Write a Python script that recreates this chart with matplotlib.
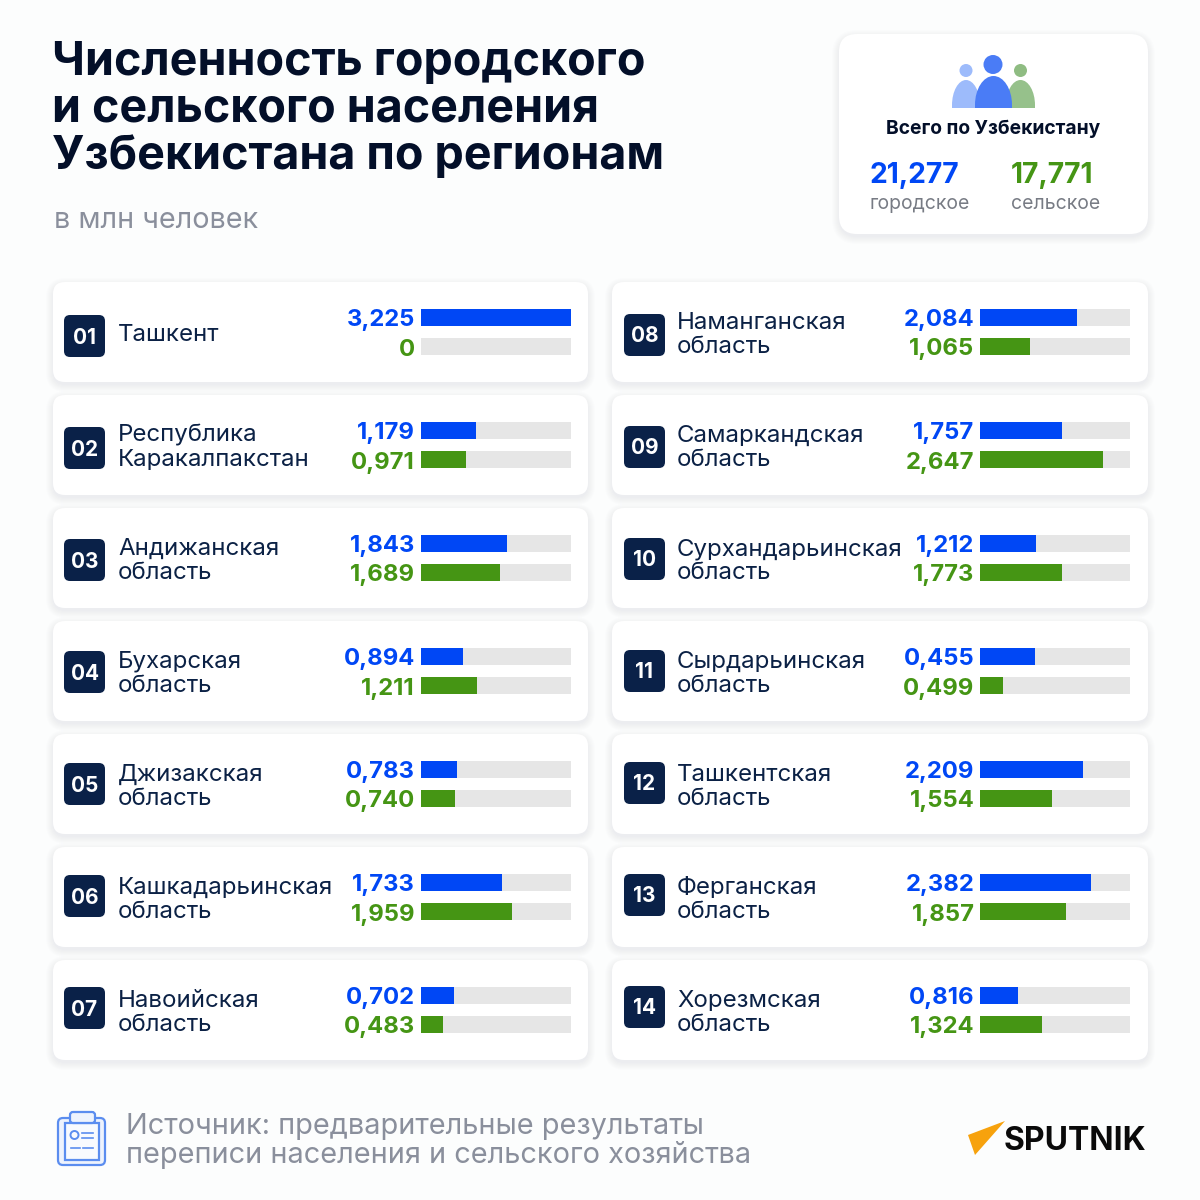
import matplotlib
matplotlib.use("Agg")
import matplotlib.pyplot as plt
from matplotlib.patches import FancyBboxPatch, Circle, Polygon, PathPatch, Rectangle
from matplotlib.path import Path

plt.rcParams['font.family'] = ['Inter', 'Roboto', 'DejaVu Sans']

# ---------- data ----------
left_names = [["Ташкент"], ["Республика", "Каракалпакстан"], ["Андижанская", "область"],
              ["Бухарская", "область"], ["Джизакская", "область"],
              ["Кашкадарьинская", "область"], ["Навоийская", "область"]]
right_names = [["Наманганская", "область"], ["Самаркандская", "область"], ["Сурхандарьинская", "область"],
               ["Сырдарьинская", "область"], ["Ташкентская", "область"],
               ["Ферганская", "область"], ["Хорезмская", "область"]]
left_urban = [3.225, 1.179, 1.843, 0.894, 0.783, 1.733, 0.702]
left_rural = [0, 0.971, 1.689, 1.211, 0.740, 1.959, 0.483]
right_urban = [2.084, 1.757, 1.212, 0.455, 2.209, 2.382, 0.816]
right_rural = [1.065, 2.647, 1.773, 0.499, 1.554, 1.857, 1.324]
# the drawn bar for Syrdarya's urban value is longer than its label says
right_urban_bar = [2.084, 1.757, 1.212, 1.18, 2.209, 2.382, 0.816]
scale_max = 3.225
total_urban = "21,277"
total_rural = "17,771"

title_lines = ["Численность городского", "и сельского населения", "Узбекистана по регионам"]
subtitle = "в млн человек"
source_lines = ["Источник: предварительные результаты", "переписи населения и сельского хозяйства"]

# ---------- style ----------
BG = "#FCFDFD"
BLUE = "#0047F5"
GREEN = "#459514"
TRACK = "#E6E6E6"
NAVY = "#0A2148"
INK = "#0B2145"
GRAY = "#8A8F9C"
PITCH = 113
TOP = 282

def fmt(v):
    return "0" if v == 0 else f"{v:.3f}".replace(".", ",")

fig = plt.figure(figsize=(12, 12), dpi=100, facecolor=BG)
bg = fig.add_axes([0, 0, 1, 1])
bg.set_xlim(0, 1200)
bg.set_ylim(1200, 0)
bg.axis("off")

def card(x0, y0, x1, y1, r):
    for i in range(8, 0, -1):
        bg.add_patch(FancyBboxPatch((x0 - i + 1, y0 - i + 4), x1 - x0 + 2 * i - 2, y1 - y0 + 2 * i - 2,
                                    boxstyle=f"round,pad=0,rounding_size={r + i}",
                                    fc="#5A6E9E", ec="none", alpha=0.010))
    bg.add_patch(FancyBboxPatch((x0, y0), x1 - x0, y1 - y0, boxstyle=f"round,pad=0,rounding_size={r}",
                                fc="white", ec="none"))

# ---------- header ----------
for i, line in enumerate(title_lines):
    bg.text(52.5, 75 + 47 * i, line, fontsize=33.55, fontweight="bold", color="#030F29", va="baseline")
bg.text(53.5, 228, subtitle, fontsize=20.7, color=GRAY, va="baseline")

card(839, 34, 1148, 234, 18)

def body(x0, x1, top, bottom, color, z):
    w = x1 - x0
    h = bottom - top
    k = 0.55
    verts = [(x0, bottom), (x0, top + h * 0.9), (x0, top + h * 0.9 - h * 0.9 * k), (x0 + w / 2 - w / 2 * k, top),
             (x0 + w / 2, top), (x0 + w / 2 + w / 2 * k, top), (x1, top + h * 0.9 - h * 0.9 * k),
             (x1, top + h * 0.9), (x1, bottom), (x0, bottom)]
    codes = [Path.MOVETO, Path.LINETO, Path.CURVE4, Path.CURVE4, Path.CURVE4, Path.CURVE4, Path.CURVE4,
             Path.CURVE4, Path.LINETO, Path.CLOSEPOLY]
    bg.add_patch(PathPatch(Path(verts, codes), fc=color, ec="none", zorder=z))

body(952, 980, 80, 108, "#9DBBFB", 3)
bg.add_patch(Circle((966, 70.5), 6.5, fc="#9DBBFB", ec="none", zorder=3))
body(1006, 1035, 80, 108, "#96C18B", 3)
bg.add_patch(Circle((1020.5, 70.5), 6.5, fc="#8FBC82", ec="none", zorder=3))
body(975, 1012, 76, 108, "#4A7CF6", 4)
bg.add_patch(Circle((993, 64.5), 9.5, fc="#4A7CF6", ec="none", zorder=4))

bg.text(993.5, 134, "Всего по Узбекистану", fontsize=13.85, fontweight="bold", color="#030F29",
        ha="center", va="baseline")
bg.text(869.5, 183, total_urban, fontsize=20.3, fontweight="bold", color=BLUE, va="baseline")
bg.text(1011, 183, total_rural, fontsize=20.3, fontweight="bold", color=GREEN, va="baseline")
bg.text(869.5, 209, "городское", fontsize=13.95, color="#777B84", va="baseline")
bg.text(1011, 209, "сельское", fontsize=13.95, color="#777B84", va="baseline")

# ---------- rows ----------
def column(names, urban, rural, urban_bar, card_x0, card_x1, offset):
    track_x0 = 421 if not offset else 980
    ax = fig.add_axes([track_x0 / 1200, 1 - (TOP + 7 * PITCH) / 1200, 150 / 1200, 7 * PITCH / 1200],
                      zorder=5)
    ax.set_xlim(0, scale_max)
    ax.set_ylim(7, 0)
    ax.axis("off")
    ax.patch.set_alpha(0)
    bar_h = 17 / PITCH
    up = (35.5) / PITCH
    down = (64.5) / PITCH
    rows = range(len(names))
    ys_u = [r + up for r in rows]
    ys_r = [r + down for r in rows]
    ax.barh(ys_u, [scale_max] * 7, height=bar_h, color=TRACK)
    ax.barh(ys_r, [scale_max] * 7, height=bar_h, color=TRACK)
    ax.barh(ys_u, urban_bar, height=bar_h, color=BLUE)
    ax.barh(ys_r, rural, height=bar_h, color=GREEN)
    for r in rows:
        y0 = TOP + r * PITCH
        card(card_x0, y0, card_x1, y0 + 100, 12)
        bx = card_x0 + (12 if offset else 11)
        by = 315 + r * 112 - (1 if offset else 0)
        bg.add_patch(FancyBboxPatch((bx, by), 41, 42, boxstyle="round,pad=0,rounding_size=6",
                                    fc=NAVY, ec="none", zorder=3))
        num = r + 1 + (7 if offset else 0)
        bg.text(bx + 20.5, by + 28.5, f"{num:02d}", fontsize=15, fontweight="bold", color="white",
                ha="center", va="baseline", zorder=4)
        lines = names[r]
        tx = card_x0 + 65
        if len(lines) == 1:
            bg.text(tx, y0 + 59, lines[0], fontsize=17.3, color=INK, va="baseline", zorder=4)
        else:
            bg.text(tx, y0 + 47, lines[0], fontsize=17.3, color=INK, va="baseline", zorder=4)
            bg.text(tx, y0 + 71.4, lines[1], fontsize=17.3, color=INK, va="baseline", zorder=4)
        vx = track_x0 - (6 if not offset else 5.5)
        bg.text(vx, y0 + 44, fmt(urban[r]), fontsize=17.2, fontweight="bold", color=BLUE,
                ha="right", va="baseline", zorder=4)
        bg.text(vx, y0 + 73.5, fmt(rural[r]), fontsize=17.2, fontweight="bold", color=GREEN,
                ha="right", va="baseline", zorder=4)

column(left_names, left_urban, left_rural, left_urban, 53, 588, False)
column(right_names, right_urban, right_rural, right_urban_bar, 612, 1148, True)

# ---------- footer ----------
ICON = "#5B8DEF"
bg.add_patch(FancyBboxPatch((58, 1118), 47, 47, boxstyle="round,pad=0,rounding_size=5", fc="#EEF3FD", ec=ICON, lw=1.6))
bg.add_patch(Rectangle((65, 1123), 34, 37, fc="#F8FAFE", ec=ICON, lw=1.6))
bg.add_patch(FancyBboxPatch((70, 1112), 25, 11, boxstyle="round,pad=0,rounding_size=3", fc="#EEF3FD", ec=ICON, lw=1.6))
bg.add_patch(Circle((74.5, 1135), 4, fc="none", ec=ICON, lw=1.4))
for yy in (1133, 1138):
    bg.plot([82, 93], [yy, yy], color=ICON, lw=1.2)
bg.plot([71, 80], [1148, 1148], color=ICON, lw=1.2)
bg.plot([83, 93], [1148, 1148], color=ICON, lw=1.2)

bg.text(126, 1134, source_lines[0], fontsize=20.8, color=GRAY, va="baseline")
bg.text(126, 1163, source_lines[1], fontsize=20.8, color=GRAY, va="baseline")

bg.add_patch(Polygon([(968, 1135), (1005, 1121), (975, 1155)], closed=True, fc="#F7A20D", ec="none"))
bg.text(1004, 1150, "SPUTNIK", fontsize=23, fontweight="bold", color="#0A0A0A", va="baseline")

fig.savefig("out.png", dpi=100, facecolor=BG)
